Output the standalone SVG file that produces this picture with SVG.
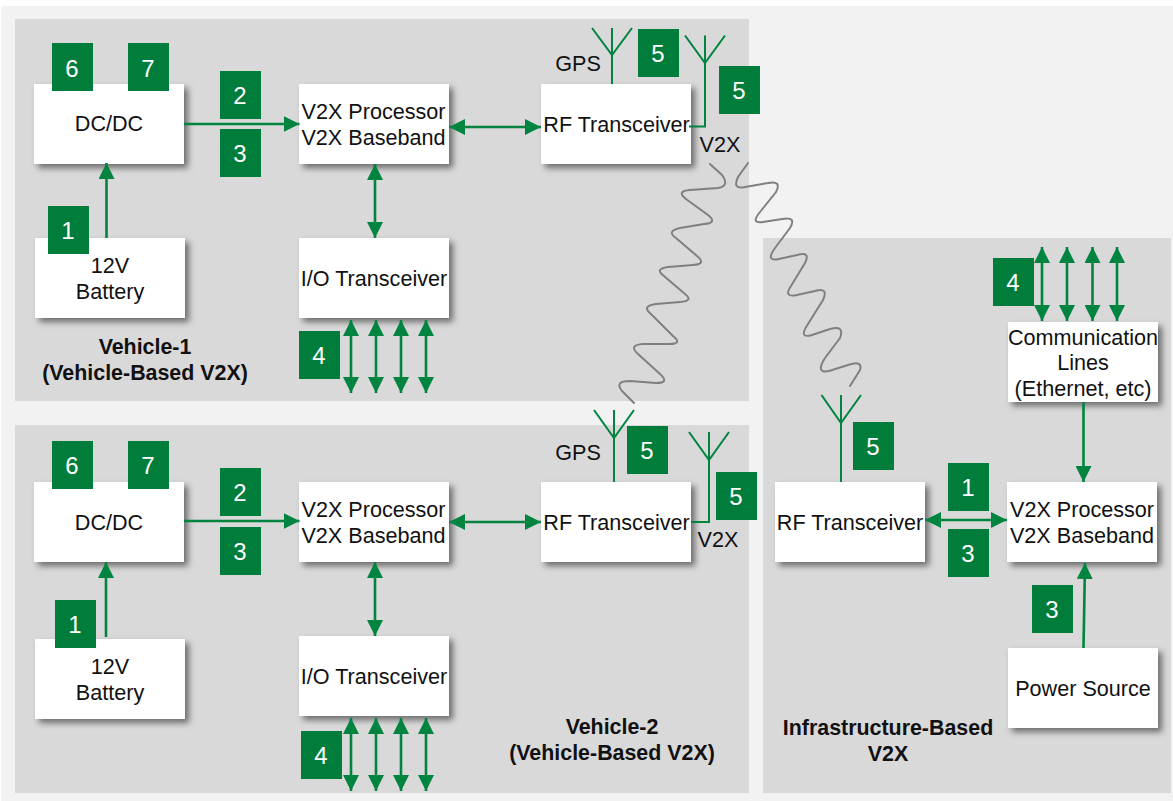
<svg xmlns="http://www.w3.org/2000/svg" width="1173" height="801" viewBox="0 0 1173 801">
<style>
.panel{fill:#d9d9d9}
.box{fill:#fff;filter:url(#sh)}
.t{font-family:"Liberation Sans",Arial,sans-serif;font-size:21.6px;fill:#111;text-anchor:middle}
.b{font-weight:bold;font-size:21.4px}
.sq rect{fill:#007d3a}
.sq text{font-family:"Liberation Sans",Arial,sans-serif;font-size:24px;fill:#fff;text-anchor:middle}
.a{stroke:#00843f;stroke-width:2.6;fill:none}
.one{marker-end:url(#ah)}
.two{marker-start:url(#as);marker-end:url(#ah)}
.ant{stroke:#00843f;stroke-width:2;fill:none}
.wave{stroke:#808080;stroke-width:2;fill:none;stroke-linecap:round}
</style>
<defs>
<filter id="sh" x="-10%" y="-10%" width="125%" height="130%"><feDropShadow dx="4" dy="4" stdDeviation="3" flood-color="#000" flood-opacity="0.5"/></filter>
<marker id="ah" markerUnits="userSpaceOnUse" markerWidth="16" markerHeight="16" refX="16" refY="8" orient="auto"><path d="M0 0L16 8L0 16Z" fill="#00843f"/></marker>
<marker id="as" markerUnits="userSpaceOnUse" markerWidth="16" markerHeight="16" refX="0" refY="8" orient="auto"><path d="M16 0L0 8L16 16Z" fill="#00843f"/></marker>
</defs>
<rect x="0" y="0" width="1173" height="801" fill="#fff"/>
<rect x="1" y="6" width="1172" height="795" fill="#f2f2f2"/>
<g id="panels">
<rect class="panel" x="15" y="19" width="734" height="382"/>
<rect class="panel" x="15" y="425" width="734" height="368"/>
<rect class="panel" x="763" y="238" width="408" height="555"/>
</g>
<g id="wireless">
<path class="wave" d="M710 164L722 175Q730 186 718 188L690 190Q676 191 686 199L708 215Q718 223 704 224L680 228Q666 231 676 238L697 256Q707 264 693 265L668 267Q654 269 664 276L685 294Q694 301 680 302L656 304Q641 306 651 314L673 336Q683 344 669 344L643 344Q628 345 638 354L660 374Q670 383 656 383L630 381Q614 381 622 391L634 403"/>
<path class="wave" d="M748 163L738 177Q732 190 745 187L768 183Q782 180 776 192L760 212Q750 224 763 222L782 219Q797 216 790 228L775 248Q765 262 779 259L797 255Q811 251 805 263L791 286Q783 298 797 295L815 291Q829 287 823 300L808 324Q798 339 812 335L830 329Q845 325 840 338L825 358Q815 374 829 371L848 365Q863 360 860 370L850 386"/>
</g>
<g id="nodes">
<g id="v1-dcdc"><rect class="box" x="34" y="84" width="150" height="80"/><text class="t" x="109" y="131">DC/DC</text></g>
<g id="v1-battery"><rect class="box" x="35" y="238" width="150" height="80"/><text class="t" x="110" y="273">12V</text><text class="t" x="110" y="299">Battery</text></g>
<g id="v1-proc"><rect class="box" x="299" y="84" width="150" height="80"/><text class="t" x="373.500" y="119">V2X Processor</text><text class="t" x="373.500" y="145">V2X Baseband</text></g>
<g id="v1-rf"><rect class="box" x="541" y="84" width="150" height="80"/><text class="t" x="616.500" y="132">RF Transceiver</text></g>
<g id="v1-io"><rect class="box" x="299" y="238" width="150" height="80"/><text class="t" x="374" y="286">I/O Transceiver</text></g>
<g id="v2-dcdc"><rect class="box" x="34" y="482" width="150" height="80"/><text class="t" x="109" y="530">DC/DC</text></g>
<g id="v2-battery"><rect class="box" x="35" y="639" width="150" height="80"/><text class="t" x="110" y="674">12V</text><text class="t" x="110" y="700">Battery</text></g>
<g id="v2-proc"><rect class="box" x="299" y="482" width="150" height="80"/><text class="t" x="373.500" y="517">V2X Processor</text><text class="t" x="373.500" y="543">V2X Baseband</text></g>
<g id="v2-rf"><rect class="box" x="541" y="482" width="150" height="80"/><text class="t" x="616.500" y="530">RF Transceiver</text></g>
<g id="v2-io"><rect class="box" x="299" y="636" width="150" height="80"/><text class="t" x="374" y="684">I/O Transceiver</text></g>
<g id="i-rf"><rect class="box" x="775" y="482" width="150" height="80"/><text class="t" x="850" y="530">RF Transceiver</text></g>
<g id="i-proc"><rect class="box" x="1007" y="482" width="150" height="80"/><text class="t" x="1082" y="517">V2X Processor</text><text class="t" x="1082" y="543">V2X Baseband</text></g>
<g id="i-comm"><rect class="box" x="1008" y="322" width="150" height="80"/><text class="t" x="1083" y="345">Communication</text><text class="t" x="1083" y="370">Lines</text><text class="t" x="1083" y="396">(Ethernet, etc)</text></g>
<g id="i-power"><rect class="box" x="1008" y="648" width="150" height="80"/><text class="t" x="1083" y="696">Power Source</text></g>
</g>
<g id="connectors">
<path class="a one" d="M184 124H299.500"/>
<path class="a one" d="M106.500 238V163"/>
<path class="a two" d="M449 127H541"/>
<path class="a two" d="M375 164V238"/>
<path class="a two" d="M351 320V393"/><path class="a two" d="M376 320V393"/><path class="a two" d="M401 320V393"/><path class="a two" d="M426 320V393"/>
<path class="a one" d="M184 521H299.500"/>
<path class="a one" d="M106 637V562"/>
<path class="a two" d="M449 522H541"/>
<path class="a two" d="M375 562V636"/>
<path class="a two" d="M351 718V791"/><path class="a two" d="M376 718V791"/><path class="a two" d="M401 718V791"/><path class="a two" d="M426 718V791"/>
<path class="a two" d="M925 520H1007"/>
<path class="a one" d="M1083.500 402V482"/>
<path class="a one" d="M1083.500 648L1085 563"/>
<path class="a two" d="M1042 247V321"/><path class="a two" d="M1067 247V321"/><path class="a two" d="M1092.500 247V321"/><path class="a two" d="M1117 247V321"/>
<path class="ant" d="M592 28L612 55L632 28M612 28V84"/>
<path class="ant" d="M685 35.500L705 63L725 35.500M705 35.500V126.500H689"/>
<path class="ant" d="M594 410L614 438L634 410M614 410V482"/>
<path class="ant" d="M689 432L709 460L729 432M709 432V522H691"/>
<path class="ant" d="M821.500 395L841 423L861 395M841 395V482"/>
</g>
<g id="badges" class="sq">
<rect x="52" y="43" width="41" height="48"/><text x="72" y="77">6</text>
<rect x="128" y="43" width="41" height="48"/><text x="148" y="77">7</text>
<rect x="220" y="71" width="41" height="48"/><text x="240" y="104">2</text>
<rect x="220" y="129" width="41" height="48"/><text x="240" y="162">3</text>
<rect x="48" y="206" width="41" height="48"/><text x="68" y="239">1</text>
<rect x="638" y="29" width="41" height="48"/><text x="658" y="62">5</text>
<rect x="719" y="66" width="41" height="48"/><text x="739" y="99">5</text>
<rect x="299" y="331" width="41" height="48"/><text x="319" y="364">4</text>
<rect x="52" y="441" width="41" height="48"/><text x="72" y="474">6</text>
<rect x="128" y="441" width="41" height="48"/><text x="148" y="474">7</text>
<rect x="220" y="468" width="41" height="48"/><text x="240" y="501">2</text>
<rect x="220" y="527" width="41" height="48"/><text x="240" y="560">3</text>
<rect x="55" y="600" width="41" height="48"/><text x="75" y="633">1</text>
<rect x="627" y="426" width="41" height="48"/><text x="647" y="459">5</text>
<rect x="716" y="472" width="41" height="48"/><text x="736" y="505">5</text>
<rect x="301" y="731" width="41" height="48"/><text x="321" y="764">4</text>
<rect x="853" y="422" width="41" height="48"/><text x="873" y="455">5</text>
<rect x="948" y="463" width="41" height="48"/><text x="968" y="496">1</text>
<rect x="948" y="529" width="41" height="48"/><text x="968" y="562">3</text>
<rect x="1032" y="585" width="41" height="48"/><text x="1052" y="618">3</text>
<rect x="993" y="258" width="41" height="48"/><text x="1013" y="291">4</text>
</g>
<g id="labels">
<text class="t" x="578" y="71">GPS</text>
<text class="t" x="720" y="152">V2X</text>
<text class="t" x="578" y="460">GPS</text>
<text class="t" x="718" y="547">V2X</text>
<text class="t b" x="145" y="354">Vehicle-1</text>
<text class="t b" x="145" y="380">(Vehicle-Based V2X)</text>
<text class="t b" x="612" y="734">Vehicle-2</text>
<text class="t b" x="612" y="760">(Vehicle-Based V2X)</text>
<text class="t b" x="888" y="735">Infrastructure-Based</text>
<text class="t b" x="888" y="761">V2X</text>
</g>
</svg>
